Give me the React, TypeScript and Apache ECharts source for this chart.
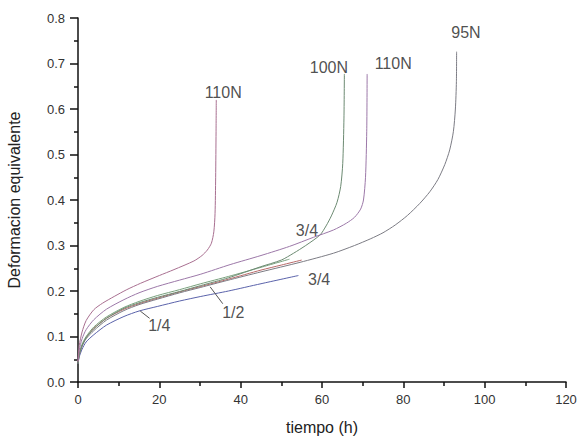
import React, { useEffect, useRef } from "react";
import * as echarts from "echarts";

// Curves: [tiempo (h), deformacion equivalente]
const curveA110N: number[][] = [
  [0, 0.045], [0.3, 0.08], [1, 0.11], [2, 0.135], [3.9, 0.159], [6, 0.173], [8.9, 0.188],
  [12, 0.203], [15.4, 0.217], [20, 0.234], [23.6, 0.247], [28.5, 0.266], [30.5, 0.278],
  [31.8, 0.29], [32.8, 0.305], [33.4, 0.33], [33.7, 0.37], [33.85, 0.45], [33.95, 0.55], [34, 0.62],
];
const curveB110N: number[][] = [
  [0, 0.045], [0.3, 0.07], [1, 0.095], [2, 0.115], [3.9, 0.137], [7, 0.16], [11.3, 0.181],
  [15, 0.196], [19.5, 0.21], [25, 0.224], [30.2, 0.237], [37.4, 0.258], [45, 0.278],
  [52, 0.298], [57.9, 0.318], [62.8, 0.334], [66, 0.349], [68, 0.362], [69.5, 0.38],
  [70.2, 0.4], [70.7, 0.45], [71, 0.55], [71.1, 0.677],
];
const curveC100N: number[][] = [
  [0, 0.04], [0.3, 0.06], [1, 0.08], [2, 0.097], [3.9, 0.117], [7, 0.14], [11.3, 0.162],
  [15, 0.174], [19.5, 0.186], [25, 0.199], [30.2, 0.212], [37, 0.229], [44.8, 0.253],
  [50, 0.268], [53, 0.283], [56, 0.3], [59.5, 0.323], [61, 0.343], [62.3, 0.365],
  [63.7, 0.395], [64.6, 0.43], [65.1, 0.48], [65.4, 0.58], [65.5, 0.677],
];
const curveD95N: number[][] = [
  [0, 0.04], [0.3, 0.058], [1, 0.078], [2, 0.095], [3.9, 0.113], [7, 0.136], [11.3, 0.157],
  [15, 0.17], [19.5, 0.182], [25, 0.196], [30.2, 0.208], [36.6, 0.223], [45, 0.242],
  [54.6, 0.263], [62.8, 0.283], [68, 0.3], [72, 0.315], [75, 0.328], [78, 0.345],
  [81, 0.366], [84, 0.392], [86.5, 0.418], [88.5, 0.445], [90.2, 0.478], [91.4, 0.51],
  [92.3, 0.55], [92.8, 0.6], [93.05, 0.66], [93.1, 0.726],
];
const curveE: number[][] = [
  [0, 0.042], [0.3, 0.06], [1, 0.08], [2, 0.098], [3.9, 0.118], [7, 0.14], [11.3, 0.16],
  [15, 0.172], [19.5, 0.184], [25, 0.198], [30.2, 0.21], [37, 0.226], [45, 0.246],
  [50, 0.257], [55, 0.268],
];
const curveF: number[][] = [
  [0, 0.04], [0.3, 0.055], [1, 0.072], [2, 0.088], [3.9, 0.104], [7, 0.125], [11.3, 0.144],
  [15, 0.156], [19.5, 0.166], [25, 0.178], [30.2, 0.188], [37, 0.2], [45, 0.216], [54.2, 0.234],
];
const curveG: number[][] = [
  [0, 0.043], [0.3, 0.062], [1, 0.083], [2, 0.1], [3.9, 0.121], [7, 0.143], [11.3, 0.164],
  [15, 0.177], [19.5, 0.19], [25, 0.203], [30.2, 0.216], [37, 0.232], [45, 0.252], [52, 0.27],
];

// Annotation texts and their positions in data units
const annotations: (string | number)[][] = [
  [35.7, 0.637, "110N"],
  [61.7, 0.692, "100N"],
  [77.5, 0.699, "110N"],
  [95.4, 0.769, "95N"],
  [56.3, 0.333, "3/4"],
  [59.3, 0.225, "3/4"],
  [38.2, 0.153, "1/2"],
  [20.0, 0.124, "1/4"],
];
const leaderHalf: number[][] = [[35.6, 0.172], [32.5, 0.209]];
const leaderQuarter: number[][] = [[17.6, 0.14], [15.3, 0.156]];

const xTicks = { min: 0, max: 120, interval: 20 };
const yTicks = { min: 0, max: 0.8, interval: 0.1 };

export default function App() {
  const ref = useRef<HTMLDivElement>(null);
  useEffect(() => {
    if (!ref.current) return;
    const chart = echarts.init(ref.current, null, { renderer: "svg" });
    const font = "'Liberation Sans', Arial, sans-serif";
    const curve = (data: number[][], color: string) => ({
      type: "line",
      data,
      showSymbol: false,
      smooth: 0.25,
      lineStyle: { color, width: 1 },
      z: 2,
    });
    const leader = (data: number[][]) => ({
      type: "line",
      data,
      showSymbol: false,
      lineStyle: { color: "#555", width: 1 },
      z: 3,
    });
    const axisColor = "#111";
    chart.setOption({
      animation: false,
      backgroundColor: "#fff",
      grid: { left: 78, right: 12, top: 18, bottom: 56, outerBoundsMode: "none" },
      xAxis: {
        type: "value",
        position: "bottom",
        min: xTicks.min,
        max: xTicks.max,
        interval: xTicks.interval,
        name: "tiempo (h)",
        nameLocation: "middle",
        nameGap: 37,
        nameTextStyle: { fontFamily: font, fontSize: 16, color: "#222" },
        axisLine: { show: true, onZero: false, lineStyle: { color: axisColor, width: 1.5 } },
        axisTick: { show: true, inside: false, length: 6, lineStyle: { color: axisColor, width: 1.5 } },
        minorTick: { show: true, splitNumber: 2, length: 4, lineStyle: { color: axisColor, width: 1.5 } },
        axisLabel: { fontFamily: font, fontSize: 13, color: "#333", margin: 11 },
        splitLine: { show: false },
        minorSplitLine: { show: false },
      },
      yAxis: {
        type: "value",
        position: "left",
        min: yTicks.min,
        max: yTicks.max,
        interval: yTicks.interval,
        name: "Deformacion equivalente",
        nameLocation: "middle",
        nameGap: 56,
        nameTextStyle: { fontFamily: font, fontSize: 16, color: "#222" },
        axisLine: { show: true, onZero: false, lineStyle: { color: axisColor, width: 1.5 } },
        axisTick: { show: true, inside: false, length: 8, lineStyle: { color: axisColor, width: 1.5 } },
        minorTick: { show: true, splitNumber: 2, length: 4, lineStyle: { color: axisColor, width: 1.5 } },
        axisLabel: {
          fontFamily: font,
          fontSize: 13,
          color: "#333",
          margin: 13,
          formatter: (v: number) => v.toFixed(1),
        },
        splitLine: { show: false },
        minorSplitLine: { show: false },
      },
      series: [
        curve(curveF, "#5a62aa"),
        curve(curveE, "#b86868"),
        curve(curveG, "#78a07c"),
        curve(curveD95N, "#7c7c84"),
        curve(curveC100N, "#6c8a72"),
        curve(curveB110N, "#9c78a8"),
        curve(curveA110N, "#a86f90"),
        leader(leaderHalf),
        leader(leaderQuarter),
        {
          type: "scatter",
          data: annotations,
          symbolSize: 1,
          itemStyle: { color: "rgba(0,0,0,0)" },
          label: {
            show: true,
            position: "inside",
            formatter: (p: any) => p.value[2],
            fontFamily: font,
            fontSize: 16,
            color: "#222",
          },
          z: 4,
        },
      ],
    });
    return () => chart.dispose();
  }, []);
  return (
    <div
      ref={ref}
      style={{ position: "fixed", left: 0, top: 0, width: 578, height: 438, background: "#fff" }}
    />
  );
}
